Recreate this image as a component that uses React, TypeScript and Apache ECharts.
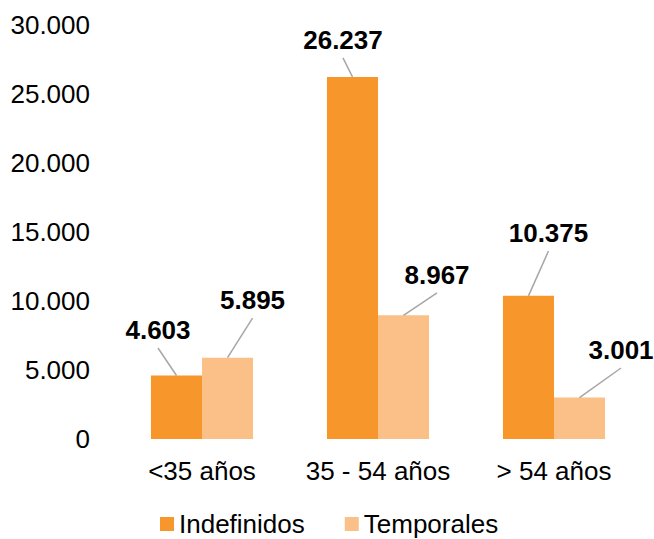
import React, { useEffect, useRef } from "react";
import * as echarts from "echarts";

const categories = ["<35 años", "35 - 54 años", "> 54 años"];
const seriesNames = ["Indefinidos", "Temporales"];
const indefinidos = [4603, 26237, 10375];
const temporales = [5895, 8967, 3001];

// label offset (label centre relative to bar-top centre), styling only
const labelOffsets = [
  [[-18.5, -45.5], [-9.5, -37], [20, -62.8]],
  [[25, -57.6], [33.5, -40.3], [41.5, -47.6]],
];

const COLORS = ["#F7962B", "#FAC088"];
const FONT = '"Liberation Sans", Arial, sans-serif';

const fmt = (v: number) => String(Math.round(v)).replace(/\B(?=(\d{3})+(?!\d))/g, ".");

export default function App() {
  const ref = useRef<HTMLDivElement>(null);
  useEffect(() => {
    document.body.style.margin = "0";
    if (!ref.current) return;
    const chart = echarts.init(ref.current, null, { renderer: "svg" });
    const gapPct = 0.42;
    const labelData: any[] = [];
    [indefinidos, temporales].forEach((arr, s) =>
      arr.forEach((v, i) => labelData.push([i, v, s]))
    );
    chart.setOption({
      animation: false,
      textStyle: { fontFamily: FONT },
      grid: { left: 114, right: 12, top: 25, bottom: 100 },
      legend: {
        data: seriesNames,
        left: 160,
        top: 510,
        icon: "rect",
        itemWidth: 14,
        itemHeight: 14,
        itemGap: 40,
        padding: 0,
        textStyle: { fontSize: 26, lineHeight: 28, color: "#000", fontFamily: FONT },
      },
      xAxis: {
        type: "category",
        data: categories,
        axisLine: { show: false },
        axisTick: { show: false },
        axisLabel: { fontSize: 26, color: "#000", margin: 19, interval: 0, fontFamily: FONT },
      },
      yAxis: {
        type: "value",
        min: 0,
        max: 30000,
        interval: 5000,
        splitLine: { show: false },
        axisLine: { show: false },
        axisTick: { show: false },
        axisLabel: {
          fontSize: 26,
          color: "#000",
          margin: 24,
          fontFamily: FONT,
          formatter: (v: number) => fmt(v),
        },
      },
      series: [
        {
          name: seriesNames[0],
          type: "bar",
          data: indefinidos,
          barGap: "0%",
          barCategoryGap: gapPct * 100 + "%",
          itemStyle: { color: COLORS[0] },
        },
        {
          name: seriesNames[1],
          type: "bar",
          data: temporales,
          barGap: "0%",
          barCategoryGap: gapPct * 100 + "%",
          itemStyle: { color: COLORS[1] },
        },
        {
          type: "custom",
          z: 10,
          silent: true,
          data: labelData,
          renderItem: (params: any, api: any) => {
            const cat = api.value(0);
            const val = api.value(1);
            const s = api.value(2);
            const p = api.coord([cat, val]);
            const band = api.size([1, 0])[0];
            const barW = (band * (1 - gapPct)) / 2;
            const bx = p[0] + (s === 0 ? -barW / 2 : barW / 2);
            const off = labelOffsets[s][cat];
            const lx = bx + off[0];
            const ly = p[1] + off[1];
            return {
              type: "group",
              children: [
                {
                  type: "line",
                  shape: { x1: lx, y1: ly + 18, x2: bx, y2: p[1] },
                  style: { stroke: "#A6A6A6", lineWidth: 1.5 },
                },
                {
                  type: "text",
                  x: lx,
                  y: ly,
                  style: {
                    text: fmt(val),
                    fill: "#000",
                    font: "bold 26px " + FONT,
                    align: "center",
                    verticalAlign: "middle",
                  },
                },
              ],
            };
          },
        },
      ],
    });
    return () => chart.dispose();
  }, []);
  return <div ref={ref} style={{ width: 654, height: 539 }} />;
}
